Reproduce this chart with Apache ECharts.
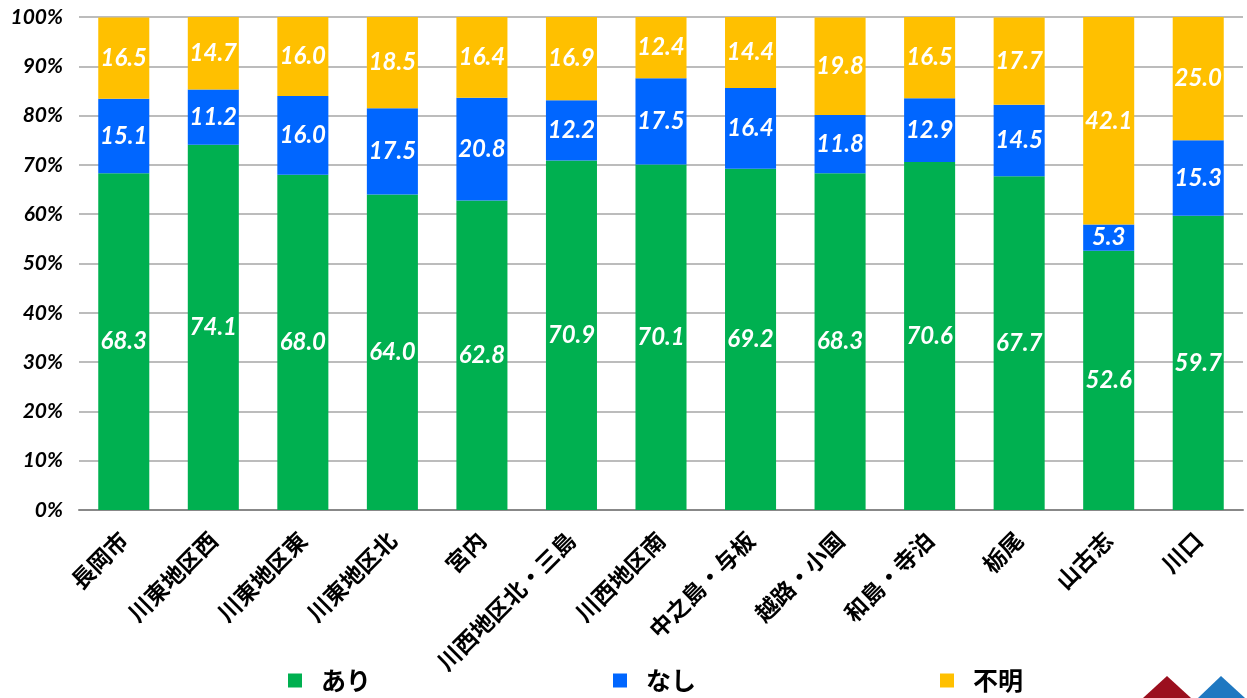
<!DOCTYPE html>
<html>
<head>
<meta charset="utf-8">
<script src="https://cdn.jsdelivr.net/npm/echarts@6/dist/echarts.min.js"></script>
<style>
  html, body { margin: 0; padding: 0; background: #fff; }
  #chart { width: 1247px; height: 698px; }
</style>
</head>
<body>
<div id="chart"></div>
<script>
// 地区名
const areas = ['長岡市', '川東地区西', '川東地区東', '川東地区北', '宮内', '川西地区北・三島',
  '川西地区南', '中之島・与板', '越路・小国', '和島・寺泊', '栃尾', '山古志', '川口'];
// 割合 (%)
const ari = [68.3, 74.1, 68.0, 64.0, 62.8, 70.9, 70.1, 69.2, 68.3, 70.6, 67.7, 52.6, 59.7];
const nashi = [15.1, 11.2, 16.0, 17.5, 20.8, 12.2, 17.5, 16.4, 11.8, 12.9, 14.5, 5.3, 15.3];
const fumei = [16.5, 14.7, 16.0, 18.5, 16.4, 16.9, 12.4, 14.4, 19.8, 16.5, 17.7, 42.1, 25.0];
const seriesNames = ['あり', 'なし', '不明'];
const colors = ['#00B050', '#0066FF', '#FFC000'];

const chart = echarts.init(document.getElementById('chart'));

const labelStyle = {
  show: true,
  position: 'inside',
  color: '#fff',
  fontSize: 24,
  fontWeight: 'bold',
  fontStyle: 'italic',
  fontFamily: 'Lato, "DejaVu Sans", sans-serif',
  formatter: (p) => p.value.toFixed(1),
};

const makeSeries = (name, data, color) => ({
  name: name,
  type: 'bar',
  stack: 'total',
  barCategoryGap: '43%',
  itemStyle: { color: color },
  label: labelStyle,
  data: data,
  animation: false,
});

// 凡例は項目ごとに位置を決める
const legendLeft = [283, 608, 935];
const legends = seriesNames.map((name, i) => ({
  left: legendLeft[i],
  top: 663,
  itemWidth: 14,
  itemHeight: 14,
  icon: 'rect',
  textStyle: {
    fontSize: 25,
    fontWeight: 'bold',
    color: '#000',
    fontFamily: '"Noto Sans CJK JP", sans-serif',
    padding: [0, 0, 0, 14],
  },
  data: [name],
}));

chart.setOption({
  grid: { left: 79, right: 4, top: 17, bottom: 188 },
  legend: legends,
  xAxis: {
    type: 'category',
    data: areas,
    axisTick: { show: false },
    axisLine: { lineStyle: { color: '#888', width: 2 } },
    axisLabel: {
      rotate: 45,
      interval: 0,
      margin: 26,
      color: '#000',
      fontSize: 23,
      fontWeight: 'bold',
      fontFamily: '"Noto Sans CJK JP", sans-serif',
    },
  },
  yAxis: {
    type: 'value',
    min: 0,
    max: 100,
    interval: 10,
    axisLine: { show: false },
    axisTick: { show: false },
    splitLine: { lineStyle: { color: '#a6a6a6', width: 1.5 } },
    axisLabel: {
      formatter: '{value}%',
      margin: 16,
      color: '#000',
      fontSize: 21,
      fontWeight: 'bold',
      fontStyle: 'italic',
      fontFamily: 'Lato, "DejaVu Sans", sans-serif',
    },
  },
  graphic: [
    { type: 'polygon', shape: { points: [[1143, 698], [1167, 676], [1191, 698]] }, style: { fill: '#9b0f1e' } },
    { type: 'polygon', shape: { points: [[1198, 698], [1221, 676], [1245, 698]] }, style: { fill: '#1f78c1' } },
  ],
  series: [
    makeSeries(seriesNames[0], ari, colors[0]),
    makeSeries(seriesNames[1], nashi, colors[1]),
    makeSeries(seriesNames[2], fumei, colors[2]),
  ],
});
</script>
</body>
</html>
